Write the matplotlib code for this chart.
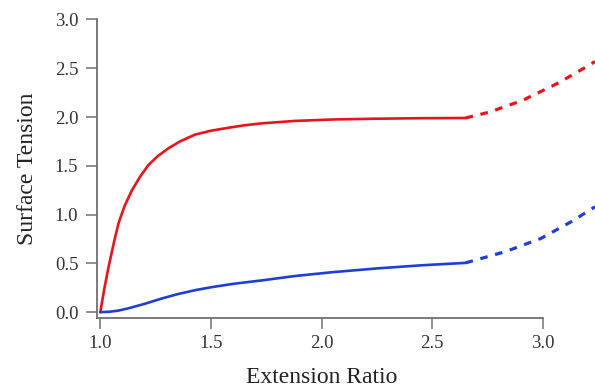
import matplotlib.pyplot as plt

# values
red_x = [1.0, 1.018, 1.037, 1.06, 1.082, 1.11, 1.143, 1.18, 1.218, 1.26, 1.308,
         1.36, 1.428, 1.5, 1.578, 1.65, 1.728, 1.878, 2.05, 2.25, 2.45, 2.65]
red_y = [0.0, 0.24, 0.46, 0.70, 0.91, 1.09, 1.25, 1.39, 1.51, 1.60, 1.68,
         1.75, 1.82, 1.86, 1.89, 1.915, 1.935, 1.96, 1.975, 1.983, 1.988, 1.99]
red_ext_x = [2.65, 2.757, 2.907, 3.07, 3.215, 3.235]
red_ext_y = [1.99, 2.05, 2.17, 2.35, 2.54, 2.57]

blue_x = [1.0, 1.04, 1.08, 1.128, 1.2, 1.278, 1.35, 1.428, 1.5, 1.6, 1.728,
          1.878, 2.05, 2.26, 2.45, 2.65]
blue_y = [0.0, 0.004, 0.015, 0.04, 0.085, 0.14, 0.185, 0.225, 0.255, 0.29, 0.325,
          0.37, 0.41, 0.45, 0.48, 0.505]
blue_ext_x = [2.65, 2.83, 2.99, 3.13, 3.235]
blue_ext_y = [0.505, 0.62, 0.755, 0.93, 1.08]

xticks = [1.0, 1.5, 2.0, 2.5, 3.0]
yticks = [0.0, 0.5, 1.0, 1.5, 2.0, 2.5, 3.0]

plt.rcParams['font.family'] = ['Liberation Serif', 'DejaVu Serif']

fig = plt.figure(figsize=(5.95, 3.89), dpi=100)
ax = fig.add_axes([97 / 595, 71 / 389, 498 / 595, 299 / 389])

red = '#e8141c'
blue = '#1e3ed6'
ax.plot(red_x, red_y, color=red, lw=1.9, solid_capstyle='round', clip_on=False)
ax.plot(red_ext_x, red_ext_y, color=red, lw=2.3, ls=(0, (2.4, 2.4)), clip_on=False)
ax.plot(blue_x, blue_y, color=blue, lw=1.9, solid_capstyle='round', clip_on=False)
ax.plot(blue_ext_x, blue_ext_y, color=blue, lw=2.3, ls=(0, (2.4, 2.4)), clip_on=False)

ax.set_xlim(0.985, 3.235)
ax.set_ylim(-0.06, 3.005)
ax.set_xticks(xticks)
ax.set_yticks(yticks)
ax.set_xticklabels([f"{t:.1f}" for t in xticks])
ax.set_yticklabels([f"{t:.1f}" for t in yticks])

for side in ['top', 'right']:
    ax.spines[side].set_visible(False)
for side in ['left', 'bottom']:
    ax.spines[side].set_color('#707070')
    ax.spines[side].set_linewidth(1.3)
ax.spines['bottom'].set_bounds(0.985, 3.0)
ax.spines['left'].set_bounds(-0.06, 3.0)

ax.tick_params(direction='out', length=8, width=1.1, color='#707070',
               labelsize=13.5, labelcolor='#333333')
ax.tick_params(axis='x', pad=4)
ax.tick_params(axis='y', pad=5.5)

ax.set_xlabel("Extension Ratio", fontsize=17, color='#222222')
ax.set_ylabel("Surface Tension", fontsize=17, color='#222222')
ax.xaxis.set_label_coords(0.451, -0.164)
ax.yaxis.set_label_coords(-0.118, 0.5)

fig.savefig("out.png", dpi=100)
